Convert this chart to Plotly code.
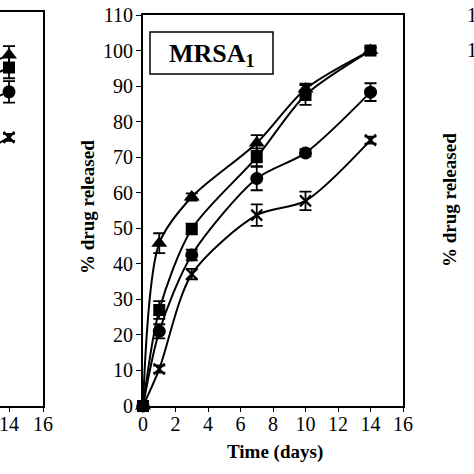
import plotly.graph_objects as go

# ---------------- data ----------------
days = [0, 1, 3, 7, 10, 14]

tri = [0, 45.8, 58.8, 74.0, 89.2, 100.0]
tri_err = [0, 2.8, 1.0, 2.2, 1.5, 0.8]

sq = [0, 27.0, 49.8, 70.0, 87.5, 100.0]
sq_err = [0, 2.5, 1.5, 2.5, 2.8, 0.8]

circ = [0, 21.0, 42.5, 64.0, 71.2, 88.3]
circ_err = [0, 2.0, 1.5, 3.3, 1.0, 2.5]

xm = [0, 10.4, 37.1, 53.7, 57.7, 74.8]
xm_err = [0, 1.0, 1.5, 3.0, 2.6, 1.0]

# partially visible neighbouring panel (left), only its right end is shown
left_days = [10, 14]
left_tri = [90.0, 98.0]
left_tri_err = [0, 2.5]
left_sq = [86.0, 94.5]
left_sq_err = [0, 3.0]
left_circ = [80.0, 87.7]
left_circ_err = [0, 3.0]
left_xm = [64.0, 75.0]
left_xm_err = [0, 1.0]

x_ticks_left = [14, 16]
y_max = 110

FONT = "Liberation Serif"
W = H = 474


def px(x):
    return x / W


def py(y):
    return 1 - y / H


fig = go.Figure()

series = [
    ("triangle-up", 14, tri, tri_err, left_tri, left_tri_err),
    ("square", 12, sq, sq_err, left_sq, left_sq_err),
    ("circle", 13, circ, circ_err, left_circ, left_circ_err),
    ("x-thin", 11, xm, xm_err, left_xm, left_xm_err),
]

for sym, size, vals, errs, lvals, lerrs in series:
    mk = dict(symbol=sym, size=size, color="black",
              line=dict(color="black", width=2.2 if sym == "x-thin" else 0))
    fig.add_trace(go.Scatter(
        x=days, y=vals, mode="lines+markers",
        line=dict(color="black", width=2, shape="spline", smoothing=0.8),
        marker=mk,
        error_y=dict(type="data", array=errs, visible=True, color="black",
                     thickness=1.8, width=6),
        xaxis="x2", yaxis="y2", cliponaxis=False, showlegend=False,
    ))
    fig.add_trace(go.Scatter(
        x=left_days, y=lvals, mode="lines+markers",
        line=dict(color="black", width=2, shape="spline", smoothing=0.8),
        marker=mk,
        error_y=dict(type="data", array=lerrs, visible=True, color="black",
                     thickness=1.8, width=6),
        xaxis="x", yaxis="y", cliponaxis=True, showlegend=False,
    ))

tickfont = dict(family=FONT, size=20, color="black")

fig.update_layout(
    width=W, height=H,
    margin=dict(l=0, r=0, t=0, b=0),
    paper_bgcolor="white", plot_bgcolor="white",
    xaxis=dict(domain=[0, px(43)], range=[13.47, 16], tickvals=x_ticks_left,
               ticks="outside", ticklen=4, tickwidth=1, tickcolor="black",
               ticklabelstandoff=-5, ticklabeloverflow="allow",
               showline=True, linewidth=2, linecolor="black", mirror=True,
               showgrid=False, zeroline=False, tickfont=tickfont,
               anchor="y", automargin=False),
    yaxis=dict(domain=[py(406), py(12)], range=[0, y_max], side="right",
               showline=True, linewidth=2, linecolor="black",
               showticklabels=False, ticks="", showgrid=False, zeroline=False,
               anchor="x", automargin=False),
    xaxis2=dict(domain=[px(143), px(403)], range=[0, 16], dtick=2,
                ticks="outside", ticklen=4, tickwidth=1, tickcolor="black",
                ticklabelstandoff=-5, ticklabeloverflow="allow",
                showline=True, linewidth=2, linecolor="black", mirror=True,
                showgrid=False, zeroline=False, tickfont=tickfont,
                anchor="y2", automargin=False),
    yaxis2=dict(domain=[py(406), py(15)], range=[0, y_max], dtick=10,
                ticks="outside", ticklen=5, tickwidth=1, tickcolor="black",
                ticklabelstandoff=-1,
                showline=True, linewidth=2, linecolor="black", mirror=True,
                showgrid=False, zeroline=False, tickfont=tickfont,
                anchor="x2", automargin=False),
)

labfont = dict(family=FONT, size=19, color="black")


def note(text, x, y, font, **kw):
    fig.add_annotation(text=text, x=px(x), y=py(y), xref="paper", yref="paper",
                       showarrow=False, font=font,
                       xanchor=kw.pop("xanchor", "center"),
                       yanchor=kw.pop("yanchor", "middle"), **kw)


note("<b>% drug released</b>", 87, 207, labfont, textangle=-90)
note("<b>Time (days)</b>", 275, 452, labfont)

# MRSA box
fig.add_shape(type="rect", xref="paper", yref="paper",
              x0=px(150), x1=px(273), y0=py(74), y1=py(32),
              line=dict(color="black", width=1.5), fillcolor="white")
note("<b>MRSA<sub>1</sub></b>", 212, 55,
     dict(family=FONT, size=26, color="black"))

# right neighbouring panel (cut off)
note("110", 465, 15, tickfont, xanchor="left")
note("100", 465, 50, tickfont, xanchor="left")
note("<b>% drug released</b>", 450, 200, labfont, textangle=-90)

fig.write_html("out.html", config={"displayModeBar": False},
               post_script="document.body.style.margin='0';document.body.style.overflow='hidden';")
